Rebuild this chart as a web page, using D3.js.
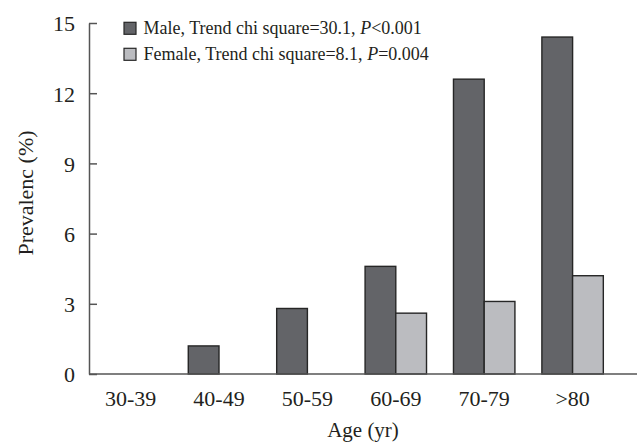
<!DOCTYPE html>
<html>
<head>
<meta charset="utf-8">
<script src="https://cdn.jsdelivr.net/npm/d3@7"></script>
<style>
  body { margin: 0; background: #fff; }
  svg text { font-family: "Liberation Serif", "DejaVu Serif", serif; fill: #231f20; }
</style>
</head>
<body>
<svg id="chart" width="638" height="446"></svg>
<script>
// data
let ageGroups = ["30-39", "40-49", "50-59", "60-69", "70-79", ">80"];
let maleValues = [0, 1.2, 2.8, 4.6, 12.6, 14.4];
let femaleValues = [0, 0, 0, 2.6, 3.1, 4.2];
let yTicks = [0, 3, 6, 9, 12, 15];
let seriesNames = ["Male", "Female"];
let seriesStats = [["30.1", "<", "0.001"], ["8.1", "=", "0.004"]];

let kColors = {
  "male": "#636468",
  "female": "#bbbcc0",
  "edge": "#262626",
  "axis": "#555"
};

let kChart = { "x": 89, "y": 23, "right": 637, "bottom": 374 };

const svg = d3.select("#chart");

let x = d3.scaleBand()
  .domain(ageGroups)
  .range([86.4, 616.8])
  .paddingInner(0.305)
  .paddingOuter(0.1525);

let xSub = d3.scaleBand()
  .domain(seriesNames)
  .range([0, x.bandwidth()]);

let y = d3.scaleLinear()
  .domain([0, 15])
  .range([kChart.bottom, kChart.y]);

// bars
let rows = ageGroups.map(function(g, i) {
  return { group: g, values: [maleValues[i], femaleValues[i]] };
});

let groups = svg.append("g").selectAll("g")
  .data(rows)
  .enter().append("g")
  .attr("transform", d => "translate(" + x(d.group) + ",0)");

groups.selectAll("rect")
  .data(d => d.values.map((v, i) => ({ name: seriesNames[i], value: v })).filter(d => d.value > 0))
  .enter().append("rect")
  .attr("x", d => xSub(d.name))
  .attr("y", d => y(d.value))
  .attr("width", xSub.bandwidth())
  .attr("height", d => y(0) - y(d.value))
  .attr("fill", d => d.name === "Male" ? kColors.male : kColors.female)
  .attr("stroke", kColors.edge)
  .attr("stroke-width", 1.4);

// y axis: ticks point inward
let yAxis = svg.append("g")
  .attr("transform", "translate(" + kChart.x + ",0)")
  .call(d3.axisRight(y).tickValues(yTicks).tickSize(8).tickSizeOuter(0));
yAxis.select(".domain").attr("stroke", kColors.axis).attr("stroke-width", 1.5);
yAxis.selectAll(".tick line").attr("stroke", kColors.axis).attr("stroke-width", 1.5);
yAxis.selectAll(".tick text")
  .attr("x", -14)
  .attr("dy", "0.36em")
  .attr("text-anchor", "end")
  .style("font-size", "22px");

// x axis line + labels
svg.append("line")
  .attr("x1", kChart.x).attr("x2", kChart.right)
  .attr("y1", y(0)).attr("y2", y(0))
  .attr("stroke", kColors.axis)
  .attr("stroke-width", 1.5);

let xAxis = svg.append("g")
  .attr("transform", "translate(0," + y(0) + ")")
  .call(d3.axisBottom(x).tickSize(0));
xAxis.select(".domain").remove();
xAxis.selectAll(".tick text")
  .attr("dy", 0)
  .attr("y", 32)
  .style("font-size", "22px");

// axis titles
svg.append("text")
  .attr("x", 363)
  .attr("y", 437)
  .attr("text-anchor", "middle")
  .style("font-size", "21px")
  .text("Age (yr)");

svg.append("text")
  .attr("transform", "translate(33,193) rotate(-90)")
  .attr("text-anchor", "middle")
  .style("font-size", "22px")
  .text("Prevalenc (%)");

// legend
let legend = svg.append("g").selectAll("g")
  .data(seriesNames)
  .enter().append("g")
  .attr("transform", (d, i) => "translate(124," + (22.3 + i * 26) + ")");

legend.append("rect")
  .attr("width", 12).attr("height", 12)
  .attr("fill", d => d === "Male" ? kColors.male : kColors.female)
  .attr("stroke", kColors.edge)
  .attr("stroke-width", 1.2);

let lt = legend.append("text")
  .attr("x", 19.5)
  .attr("y", 12)
  .style("font-size", "18px");
lt.append("tspan").text((d, i) => d + ", Trend chi square=" + seriesStats[i][0] + ", ");
lt.append("tspan").style("font-style", "italic").text("P");
lt.append("tspan").text((d, i) => seriesStats[i][1] + seriesStats[i][2]);
</script>
</body>
</html>
